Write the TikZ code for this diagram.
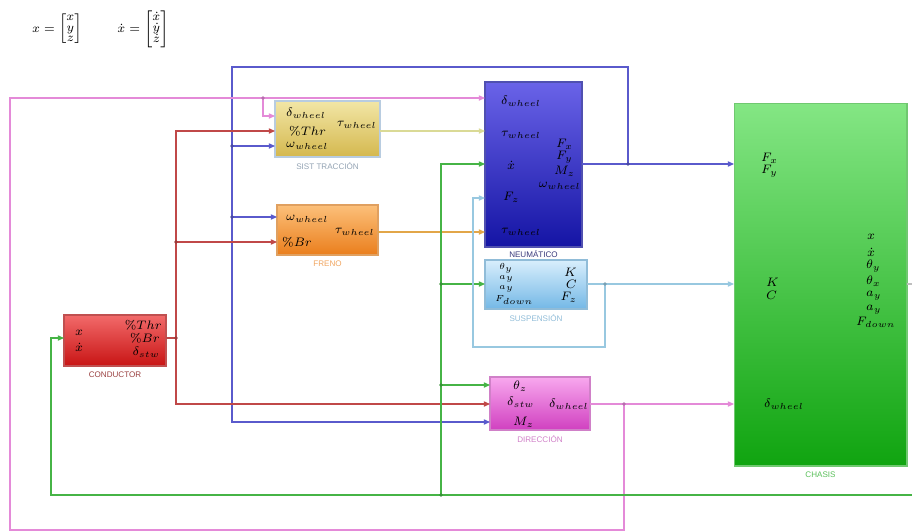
\documentclass[tikz,border=0pt]{standalone}
\usepackage{amsmath,amssymb}
\usepackage{fontspec}
\setsansfont{Liberation Sans}
\usepackage{tikz}
\usetikzlibrary{arrows.meta,positioning}
\usepackage{xcolor}
\definecolor{tracT}{HTML}{F2E6A6}\definecolor{tracB}{HTML}{D4B84E}\definecolor{tracD}{HTML}{B8CCE0}
\definecolor{frenT}{HTML}{FCC07A}\definecolor{frenB}{HTML}{EA7E1C}\definecolor{frenD}{HTML}{E0A060}
\definecolor{neumT}{HTML}{6A63E8}\definecolor{neumB}{HTML}{1414A4}\definecolor{neumD}{HTML}{5050B0}
\definecolor{suspT}{HTML}{D8EEFC}\definecolor{suspB}{HTML}{74B8E6}\definecolor{suspD}{HTML}{90BCD8}
\definecolor{dirT}{HTML}{F8A8EE}\definecolor{dirB}{HTML}{D040C0}\definecolor{dirD}{HTML}{D080C8}
\definecolor{condT}{HTML}{F26A6A}\definecolor{condB}{HTML}{C81414}\definecolor{condD}{HTML}{C05050}
\definecolor{chasT}{HTML}{84E684}\definecolor{chasB}{HTML}{10A410}\definecolor{chasD}{HTML}{70C870}
\definecolor{cblue}{HTML}{5A5ACC}\definecolor{cpink}{HTML}{E48AD8}\definecolor{cred}{HTML}{C04848}
\definecolor{cyel}{HTML}{DADA96}\definecolor{cora}{HTML}{E2A648}\definecolor{cgreen}{HTML}{46B446}
\definecolor{clblue}{HTML}{98C8E0}

\begin{document}
\begin{tikzpicture}[x=0.02cm,y=-0.02cm,>={Triangle[length=3.5pt,width=3pt]},font=\scriptsize,
  blk/.style={draw,line width=0.6pt,inner sep=0pt,outer sep=0pt},
  lbl/.style={inner sep=0.5pt},
  ttl/.style={font=\sffamily\fontsize{4.6}{5}\selectfont,inner sep=0pt},
  wire/.style={line width=0.6pt}]
\useasboundingbox (0,0) rectangle (912,531);
% vectores de estado
\node[inner sep=0pt] (eqx) at (57,29) {\renewcommand{\arraystretch}{0.72}$x=\begin{bmatrix}x\\y\\z\end{bmatrix}$};
\node[inner sep=0pt] (eqdx) at (143,29) {\renewcommand{\arraystretch}{0.72}$\dot{x}=\begin{bmatrix}\dot{x}\\\dot{y}\\\dot{z}\end{bmatrix}$};

% bloques
\node[blk,top color=tracT,bottom color=tracB,draw=tracD,minimum width=2.1cm,minimum height=1.12cm] (trac) at (327.5,129) {};
\node[blk,top color=frenT,bottom color=frenB,draw=frenD,minimum width=2.02cm,minimum height=1.0cm] (fren) at (327.5,230) {};
\node[blk,top color=neumT,bottom color=neumB,draw=neumD,minimum width=1.94cm,minimum height=3.3cm] (neum) at (533.5,164.5) {};
\node[blk,top color=suspT,bottom color=suspB,draw=suspD,minimum width=2.04cm,minimum height=0.98cm] (susp) at (536,284.5) {};
\node[blk,top color=dirT,bottom color=dirB,draw=dirD,minimum width=2.0cm,minimum height=1.06cm] (dir) at (540,403.5) {};
\node[blk,top color=condT,bottom color=condB,draw=condD,minimum width=2.04cm,minimum height=1.02cm] (cond) at (115,340.5) {};
\node[blk,top color=chasT,bottom color=chasB,draw=chasD,minimum width=3.46cm,minimum height=7.26cm] (chas) at (820.5,284.5) {};

% titulos
\node[ttl,text=black!20!tracD,below=3pt of trac] (trac-t) {SIST TRACCIÓN};
\node[ttl,text=frenB!70,below=3pt of fren] (fren-t) {FRENO};
\node[ttl,text=neumD!70!black,below=2pt of neum] (neum-t) {NEUMÁTICO};
\node[ttl,text=suspD,below=3pt of susp] (susp-t) {SUSPENSIÓN};
\node[ttl,text=dirD,below=3pt of dir] (dir-t) {DIRECCIÓN};
\node[ttl,text=condD!80!black,below=3pt of cond] (cond-t) {CONDUCTOR};
\node[ttl,text=chasB!70,below=3pt of chas] (chas-t) {CHASIS};

% textos de los bloques
\node[lbl,anchor=west] (trac-l1) at (285,113) {$\delta_{wheel}$};
\node[lbl,anchor=west] (trac-l2) at (288,131) {$\%Thr$};
\node[lbl,anchor=west] (trac-l3) at (285,146) {$\omega_{wheel}$};
\node[lbl,anchor=east] (trac-r1) at (378,125) {$\tau_{wheel}$};
\node[lbl,anchor=west] (fren-l1) at (285,219) {$\omega_{wheel}$};
\node[lbl,anchor=west] (fren-l2) at (281,242) {$\%Br$};
\node[lbl,anchor=east] (fren-r1) at (376,232) {$\tau_{wheel}$};
\node[lbl,anchor=west] (neum-l1) at (500,101) {$\delta_{wheel}$};
\node[lbl,anchor=west] (neum-l2) at (500,135) {$\tau_{wheel}$};
\node[lbl,anchor=west] (neum-l3) at (506,165) {$\dot{x}$};
\node[lbl,anchor=west] (neum-l4) at (502,197) {$F_z$};
\node[lbl,anchor=west] (neum-l5) at (500,232) {$\tau_{wheel}$};
\node[lbl,anchor=west] (neum-r1) at (555,144) {$F_x$};
\node[lbl,anchor=west] (neum-r2) at (555,157) {$F_y$};
\node[lbl,anchor=west] (neum-r3) at (553,171) {$M_z$};
\node[lbl,anchor=east] (neum-r4) at (582,186) {$\omega_{wheel}$};
\node[lbl,anchor=west] (susp-l1) at (498,268) {\tiny$\theta_y$};
\node[lbl,anchor=west] (susp-l2) at (498,279) {\tiny$a_y$};
\node[lbl,anchor=west] (susp-l3) at (498,289) {\tiny$a_y$};
\node[lbl,anchor=west] (susp-l4) at (494,300) {\tiny$F_{down}$};
\node[lbl,anchor=east] (susp-r1) at (578,272) {$K$};
\node[lbl,anchor=east] (susp-r2) at (578,284) {$C$};
\node[lbl,anchor=east] (susp-r3) at (578,297) {$F_z$};
\node[lbl,anchor=west] (dir-l1) at (512,386) {$\theta_z$};
\node[lbl,anchor=west] (dir-l2) at (506,402) {$\delta_{stw}$};
\node[lbl,anchor=west] (dir-l3) at (512,422) {$M_z$};
\node[lbl,anchor=east] (dir-r1) at (590,404) {$\delta_{wheel}$};
\node[lbl,anchor=west] (cond-l1) at (74,333) {$x$};
\node[lbl,anchor=west] (cond-l2) at (74,347) {$\dot{x}$};
\node[lbl,anchor=east] (cond-r1) at (163,325) {$\%Thr$};
\node[lbl,anchor=east] (cond-r2) at (161,338) {$\%Br$};
\node[lbl,anchor=east] (cond-r3) at (161,352) {$\delta_{stw}$};
\node[lbl,anchor=west] (chas-l1) at (760,158) {$F_x$};
\node[lbl,anchor=west] (chas-l2) at (760,171) {$F_y$};
\node[lbl,anchor=west] (chas-l3) at (765,282) {$K$};
\node[lbl,anchor=west] (chas-l4) at (765,295) {$C$};
\node[lbl,anchor=west] (chas-l5) at (763,404) {$\delta_{wheel}$};
\node[lbl,anchor=west] (chas-r1) at (866,237) {$x$};
\node[lbl,anchor=west] (chas-r2) at (866,252) {$\dot{x}$};
\node[lbl,anchor=west] (chas-r3) at (865,266) {$\theta_y$};
\node[lbl,anchor=west] (chas-r4) at (865,281) {$\theta_x$};
\node[lbl,anchor=west] (chas-r5) at (865,296) {$a_y$};
\node[lbl,anchor=west] (chas-r6) at (865,310) {$a_y$};
\node[lbl,anchor=west] (chas-r7) at (855,322) {$F_{down}$};

% puertos
\coordinate (t-in1) at (trac.west |- 0,116);
\coordinate (t-in2) at (trac.west |- 0,131);
\coordinate (t-in3) at (trac.west |- 0,146);
\coordinate (t-out) at (trac.east |- 0,131);
\coordinate (f-in1) at (fren.west |- 0,217);
\coordinate (f-in2) at (fren.west |- 0,242);
\coordinate (f-out) at (fren.east |- 0,232);
\coordinate (n-in1) at (neum.west |- 0,98);
\coordinate (n-in2) at (neum.west |- 0,131);
\coordinate (n-in3) at (neum.west |- 0,164);
\coordinate (n-in4) at (neum.west |- 0,198);
\coordinate (n-in5) at (neum.west |- 0,232);
\coordinate (n-out) at (neum.east |- 0,164);
\coordinate (s-in) at (susp.west |- 0,284);
\coordinate (s-out) at (susp.east |- 0,284);
\coordinate (d-in1) at (dir.west |- 0,385);
\coordinate (d-in2) at (dir.west |- 0,404);
\coordinate (d-in3) at (dir.west |- 0,422);
\coordinate (d-out) at (dir.east |- 0,404);
\coordinate (c-in) at (cond.west |- 0,338);
\coordinate (c-out) at (cond.east |- 0,338);
\coordinate (ch-in1) at (chas.west |- 0,164);
\coordinate (ch-in2) at (chas.west |- 0,284);
\coordinate (ch-in3) at (chas.west |- 0,404);
\coordinate (ch-out) at (chas.east |- 0,284);

% nodos de bifurcacion
\coordinate (jb) at (628,164);
\coordinate (bt) at (232,67);
\coordinate (jb2) at (bt |- t-in3);
\coordinate (jb3) at (bt |- f-in1);
\coordinate (jp) at (624,404);
\coordinate (pb) at (10,530);
\coordinate (jp2) at (263,98);
\coordinate (jr) at (176,338);
\coordinate (jr2) at (jr |- f-in2);
\coordinate (gr) at (912,495);
\coordinate (gl) at (51,495);
\coordinate (jg1) at (441,495);
\coordinate (jg2) at (jg1 |- s-in);
\coordinate (jg3) at (jg1 |- d-in1);
\coordinate (jlb) at (605,284);
\coordinate (lb) at (473,347);

% senales
\draw[wire,cblue,->] (n-out) -- (ch-in1);
\draw[wire,cblue,->] (jb) |- (bt) |- (d-in3);
\draw[wire,cblue,->] (jb2) -- (t-in3);
\draw[wire,cblue,->] (jb3) -- (f-in1);
\draw[wire,cpink,->] (d-out) -- (ch-in3);
\draw[wire,cpink,->] (jp) |- (pb) |- (n-in1);
\draw[wire,cpink,->] (jp2) |- (t-in1);
\draw[wire,cred] (c-out) -- (jr);
\draw[wire,cred,->] (jr) |- (t-in2);
\draw[wire,cred,->] (jr) |- (d-in2);
\draw[wire,cred,->] (jr2) -- (f-in2);
\draw[wire,cyel,->] (t-out) -- (n-in2);
\draw[wire,cora,->] (f-out) -- (n-in5);
\draw[wire,cgreen,->] (gr) -- (gl) |- (c-in);
\draw[wire,cgreen,->] (jg1) |- (n-in3);
\draw[wire,cgreen,->] (jg2) -- (s-in);
\draw[wire,cgreen,->] (jg3) -- (d-in1);
\draw[wire,clblue,->] (s-out) -- (ch-in2);
\draw[wire,clblue,->] (jlb) |- (lb) |- (n-in4);
\draw[wire,gray!50] (ch-out) -- ++(5,0);

\foreach \j/\c in {jb/cblue,jb2/cblue,jb3/cblue,jp/cpink,jp2/cpink,jr/cred,jr2/cred,jg1/cgreen,jg2/cgreen,jg3/cgreen,jlb/clblue}
  \fill[\c!80!black] (\j) circle (1.1pt);
\end{tikzpicture}
\end{document}
